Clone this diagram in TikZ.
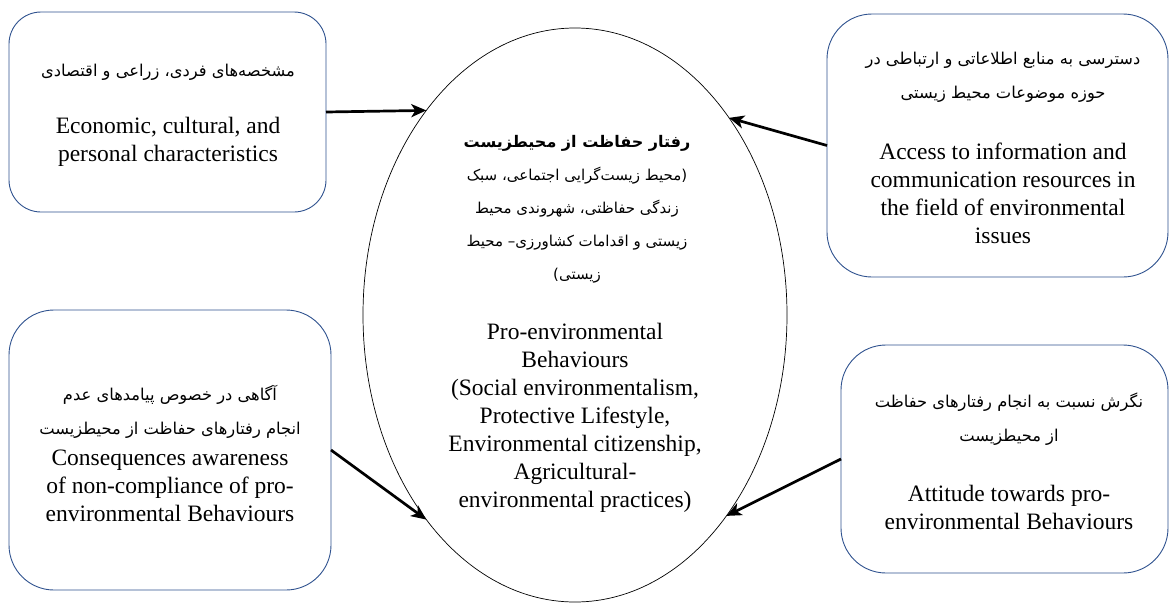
\documentclass[tikz,border=0pt]{standalone}
\usepackage{fontspec}
\setmainfont{Liberation Serif}
\newfontfamily\fa[Script=Arabic]{DejaVu Sans}
\TeXXeTstate=1
\usetikzlibrary{shapes.geometric,arrows.meta}
\definecolor{boxline}{RGB}{47,82,143}
\begin{document}
\begin{tikzpicture}[x=1pt,y=-1pt,
 box/.style={draw=boxline, line width=0.9pt, rounded corners=45pt, fill=white, inner sep=0pt, outer sep=0pt},
 en/.style={align=center, font=\fontsize{23.5}{28}\selectfont, inner sep=0pt},
 fa/.style={align=center, font=\fa\fontsize{16.3}{34}\selectfont, inner sep=0pt},
 fae/.style={align=center, font=\fa\fontsize{15}{33}\selectfont, inner sep=0pt},
 arr/.style={line width=2.7pt, -{Stealth[length=15pt,width=13pt,inset=4pt]}}]
\useasboundingbox (0,0) rectangle (1171,603);
% boxes
\node[box, rounded corners=32pt, minimum width=317pt, minimum height=200pt] (b1) at (167.5,112) {};
\node[box, minimum width=341pt, minimum height=263pt] (b2) at (997.5,145.5) {};
\node[box, minimum width=322pt, minimum height=280pt] (b3) at (170,450) {};
\node[box, minimum width=327pt, minimum height=228pt] (b4) at (1004.5,459) {};
% ellipse
\node[draw, ellipse, line width=0.7pt, minimum width=424pt, minimum height=574pt, inner sep=0pt, outer sep=0pt] (el) at (575,315) {};
% box 1 texts
\node[fa] (t1fa) at (168,72) {\beginR مشخصه‌های فردی، زراعی و اقتصادی\endR};
\node[en] (t1en) at (168,142) {Economic, cultural, and\\personal characteristics};
% box 2 texts
\node[fa] (t2fa) at (1003,77.5) {\beginR دسترسی به منابع اطلاعاتی و ارتباطی در\endR\\\beginR حوزه موضوعات محیط زیستی\endR};
\node[en] (t2en) at (1003,193.5) {Access to information and\\communication resources in\\the field of environmental\\issues};
% box 3 texts
\node[fa] (t3fa) at (170,412) {\beginR آگاهی در خصوص پیامدهای عدم\endR\\\beginR انجام رفتارهای حفاظت از محیطزیست\endR};
\node[en] (t3en) at (170,485.5) {Consequences awareness\\of non-compliance of pro-\\environmental Behaviours};
% box 4 texts
\node[fa] (t4fa) at (1009,419) {\beginR نگرش نسبت به انجام رفتارهای حفاظت\endR\\\beginR از محیطزیست\endR};
\node[en] (t4en) at (1009,507.5) {Attitude towards pro-\\environmental Behaviours};
% ellipse texts
\node[fae] (tefa) at (577,209.5) {{\bfseries\fontsize{16}{33}\selectfont\beginR رفتار حفاظت از محیطزیست\endR}\\\beginR (محیط زیست‌گرایی اجتماعی، سبک\endR\\\beginR زندگی حفاظتی، شهروندی محیط\endR\\\beginR زیستی و اقدامات کشاورزی– محیط\endR\\\beginR زیستی)\endR};
\node[en] (teen) at (575,417.5) {Pro-environmental\\Behaviours\\(Social environmentalism,\\Protective Lifestyle,\\Environmental citizenship,\\Agricultural-\\environmental practices)};
% arrows
\draw[arr] (b1.east) -- (el.126.4);
\draw[arr] (b2.west) -- (el.52.8);
\draw[arr] (b3.east) -- (el.-126.3);
\draw[arr] (b4.west) -- (el.-53.5);
\end{tikzpicture}
\end{document}
